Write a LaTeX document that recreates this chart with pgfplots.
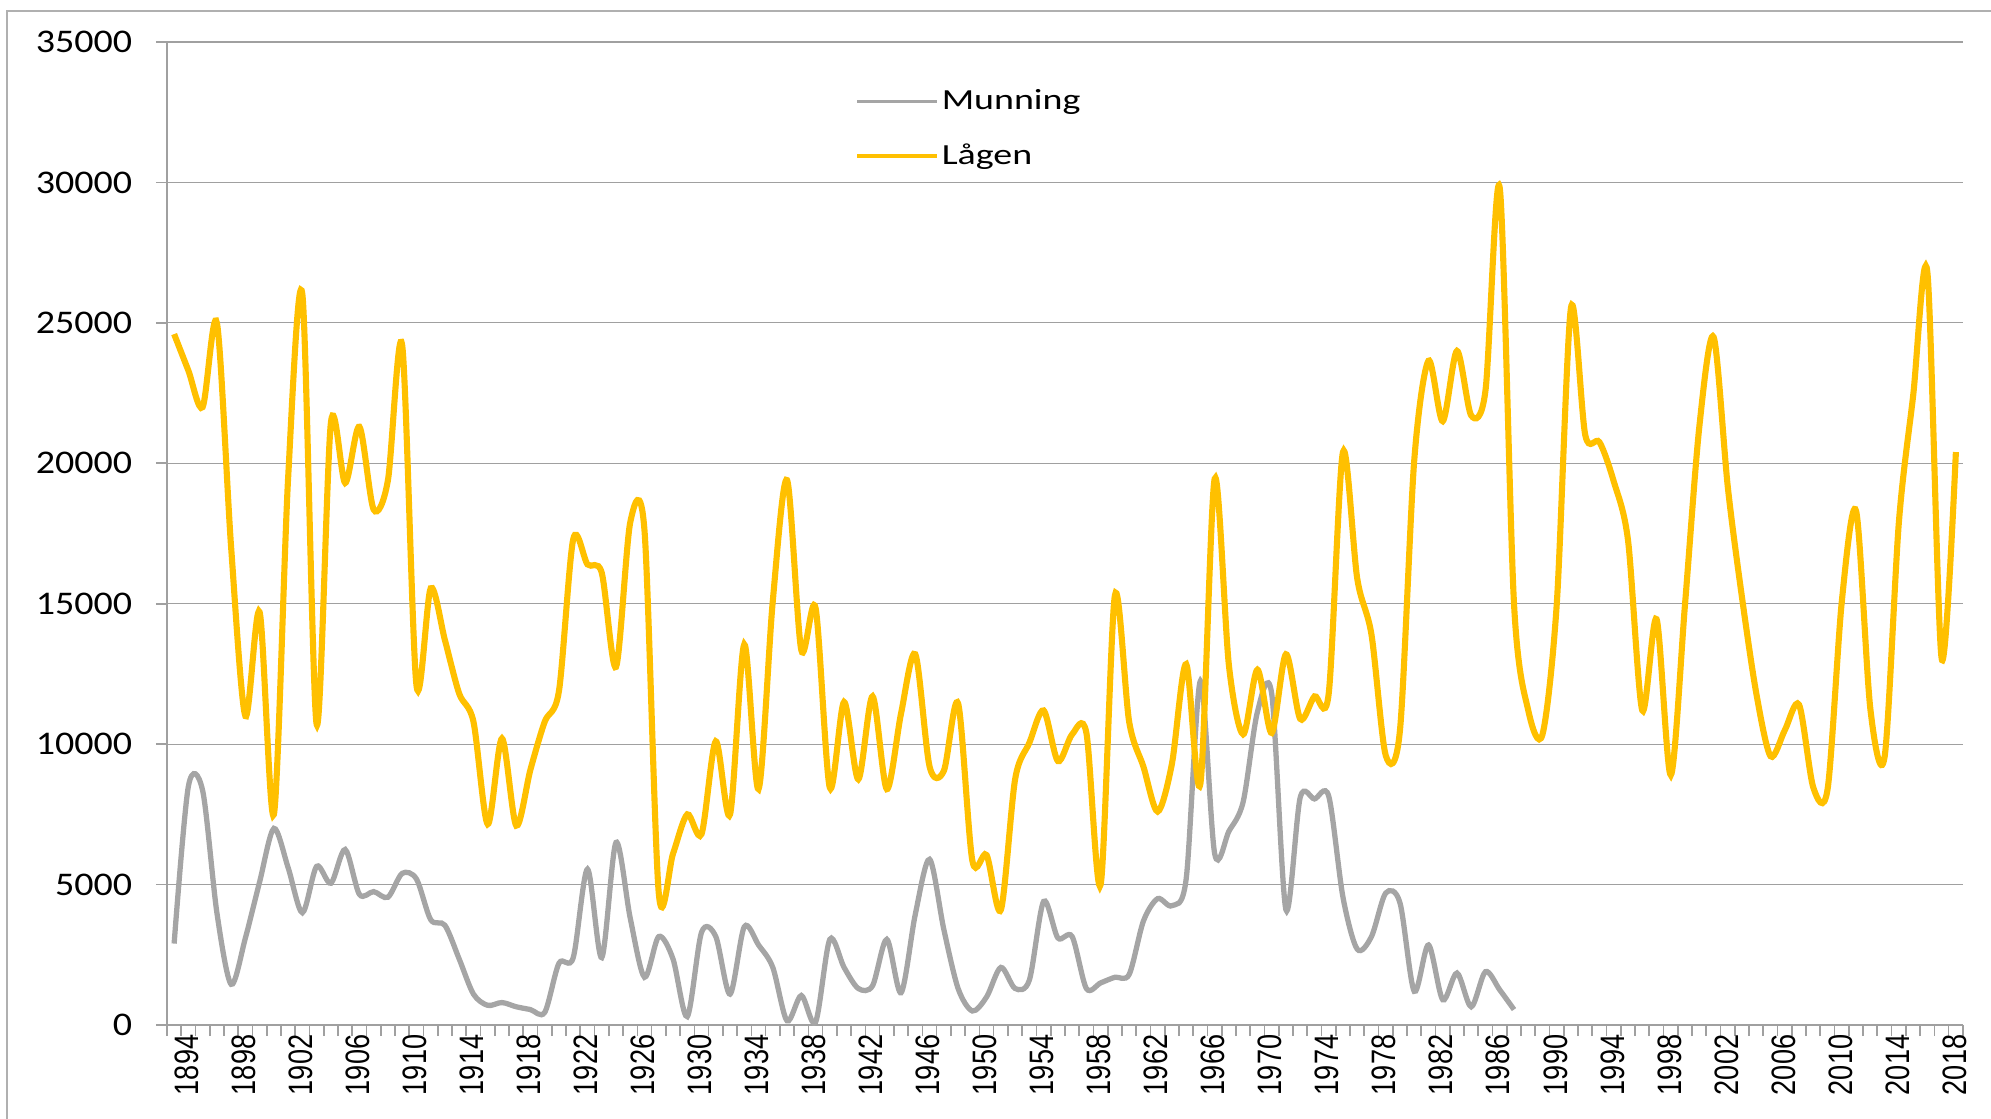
\documentclass[border=0pt]{standalone}
\usepackage{fontspec}
\usepackage{pgfplots}
\pgfplotsset{compat=1.18}
\setmainfont{Liberation Sans}
\newfontfamily\ytfont[FakeStretch=1.15]{Carlito}
\newfontfamily\xtfont[FakeStretch=0.8]{Liberation Sans}
\newfontfamily\lgfont[FakeStretch=1.3]{Carlito}
\definecolor{gold}{HTML}{FFC000}
\definecolor{munn}{HTML}{A5A5A5}
\definecolor{gridc}{HTML}{A0A0A0}
\definecolor{framec}{HTML}{B0B0B0}
\begin{document}
\begin{tikzpicture}
\begin{axis}[
  at={(0pt,0pt)}, anchor=south west,
  scale only axis, width=646.56pt, height=353.88pt,
  xmin=1893.5, xmax=2019.5, ymin=0, ymax=35000,
  axis lines*=left,
  axis line style={draw=gridc, line width=0.8pt, -},
  tick align=outside,
  major tick length=4pt,
  tick style={draw=gridc, line width=0.6pt},
  ytick={0,5000,...,35000},
  scaled y ticks=false,
  ymajorgrids,
  grid style={draw=gridc, line width=0.45pt},
  xtick={1893.5,1894.5,...,2019.5},
  xticklabels={},
  extra x ticks={1894,1898,...,2018},
  extra x tick style={major tick length=0pt, xticklabel style={rotate=90, anchor=east, font=\xtfont\fontsize{12.2}{12}\selectfont, yshift=-4.6pt}},
  /pgf/number format/1000 sep={},
  /pgf/number format/assume math mode=true,
  yticklabel style={font=\ytfont\fontsize{11.9}{12}\selectfont, xshift=-5pt},
  legend style={draw=none, fill=none, at={(0.383,0.955)}, anchor=north west,
    font=\lgfont\fontsize{10.5}{11}\selectfont, row sep=8.8pt, inner sep=0pt,
    nodes={inner sep=1pt}},
  legend cell align=left,
  legend image code/.code={\draw[#1, line width=1.3pt] (0pt,0pt) -- (28.8pt,0pt);},
]
\addplot[munn, line width=1.9pt, smooth, tension=0.5] coordinates {
(1894,2900) (1895,8500) (1896,8350) (1897,4000) (1898,1450) (1899,3100)
(1900,5100) (1901,7000) (1902,5600) (1903,4000) (1904,5650) (1905,5050)
(1906,6250) (1907,4650) (1908,4750) (1909,4550) (1910,5400) (1911,5200)
(1912,3750) (1913,3550) (1914,2350) (1915,1100) (1916,700) (1917,800)
(1918,650) (1919,550) (1920,450) (1921,2200) (1922,2400) (1923,5550)
(1924,2400) (1925,6500) (1926,3800) (1927,1700) (1928,3150) (1929,2350)
(1930,300) (1931,3300) (1932,3150) (1933,1100) (1934,3500) (1935,2850)
(1936,2050) (1937,150) (1938,1050) (1939,100) (1940,3050) (1941,2050)
(1942,1300) (1943,1400) (1944,3050) (1945,1150) (1946,3950) (1947,5900)
(1948,3400) (1949,1300) (1950,500) (1951,1000) (1952,2050) (1953,1300)
(1954,1600) (1955,4400) (1956,3100) (1957,3150) (1958,1300) (1959,1500)
(1960,1700) (1961,1800) (1962,3700) (1963,4500) (1964,4250) (1965,5200)
(1966,12250) (1967,6100) (1968,6900) (1969,7950) (1970,11150) (1971,11800)
(1972,4100) (1973,8100) (1974,8050) (1975,8150) (1976,4550) (1977,2700)
(1978,3150) (1979,4700) (1980,4350) (1981,1200) (1982,2850) (1983,900)
(1984,1850) (1985,650) (1986,1900) (1987,1250) (1988,550)
};
\addlegendentry{Munning}
\addplot[gold, line width=2.2pt, smooth, tension=0.5] coordinates {
(1894,24600) (1895,23300) (1896,22000) (1897,25000) (1898,17000) (1899,11000)
(1900,14700) (1901,7500) (1902,19500) (1903,26000) (1904,10700) (1905,21450)
(1906,19300) (1907,21300) (1908,18350) (1909,19400) (1910,24200) (1911,12100)
(1912,15550) (1913,13700) (1914,11800) (1915,10800) (1916,7150) (1917,10200)
(1918,7100) (1919,9100) (1920,10800) (1921,11900) (1922,17300) (1923,16400)
(1924,16100) (1925,12750) (1926,17900) (1927,17600) (1928,4700) (1929,6100)
(1930,7500) (1931,6800) (1932,10100) (1933,7500) (1934,13550) (1935,8400)
(1936,15100) (1937,19400) (1938,13350) (1939,14850) (1940,8450) (1941,11500)
(1942,8750) (1943,11700) (1944,8400) (1945,11100) (1946,13200) (1947,9200)
(1948,9050) (1949,11450) (1950,5850) (1951,6050) (1952,4100) (1953,8750)
(1954,10050) (1955,11200) (1956,9400) (1957,10350) (1958,10400) (1959,5000)
(1960,15300) (1961,10800) (1962,9200) (1963,7600) (1964,9300) (1965,12850)
(1966,8600) (1967,19450) (1968,12800) (1969,10350) (1970,12650) (1971,10400)
(1972,13200) (1973,10900) (1974,11700) (1975,11800) (1976,20400) (1977,15900)
(1978,13900) (1979,9600) (1980,10500) (1981,20100) (1982,23650) (1983,21500)
(1984,24000) (1985,21700) (1986,22600) (1987,29800) (1988,15000) (1989,11200)
(1990,10350) (1991,15000) (1992,25550) (1993,21000) (1994,20750) (1995,19350)
(1996,17250) (1997,11200) (1998,14450) (1999,8900) (2000,15000) (2001,21300)
(2002,24500) (2003,19150) (2004,15200) (2005,11800) (2006,9570) (2007,10500)
(2008,11400) (2009,8450) (2010,8400) (2011,15100) (2012,18300) (2013,11250)
(2014,9550) (2015,17900) (2016,22400) (2017,26800) (2018,13050) (2019,20400)
};
\addlegendentry{Lågen}
\end{axis}
\draw[framec, line width=0.7pt] (-57.6pt,-40pt) -- (-57.6pt,365pt) -- (660pt,365pt);
\pgfresetboundingbox
\useasboundingbox (-60.12pt,-33.48pt) rectangle (656.64pt,369pt);
\end{tikzpicture}
\end{document}
